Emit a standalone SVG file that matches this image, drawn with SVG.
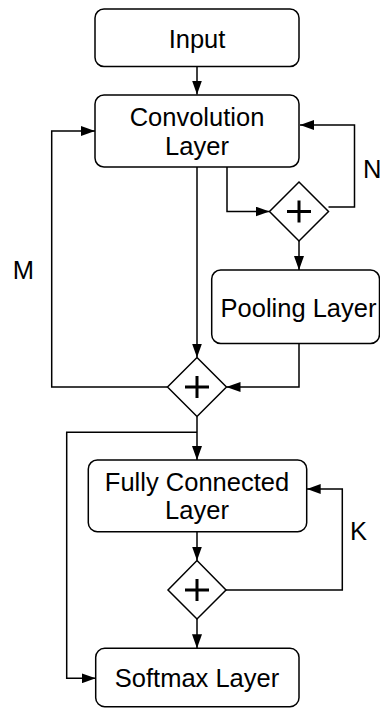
<svg xmlns="http://www.w3.org/2000/svg" width="380" height="708" viewBox="0 0 380 708">
<style>
.box{fill:#fff;stroke:#000;stroke-width:1.5}
.dia{fill:#fff;stroke:#000;stroke-width:1.5}
.plus{stroke:#000;stroke-width:3;fill:none}
.edge{fill:none;stroke:#000;stroke-width:1.5;marker-end:url(#arr)}
.plain{fill:none;stroke:#000;stroke-width:1.5}
text{font-family:"Liberation Sans",Arial,Helvetica,sans-serif;font-size:25.5px;fill:#000}
.c{text-anchor:middle}
</style>
<defs>
<marker id="arr" viewBox="0 0 14 10" refX="14" refY="5" markerWidth="14" markerHeight="10" markerUnits="userSpaceOnUse" orient="auto">
<path d="M0,0 L14,5 L0,10 z" fill="#000"/>
</marker>
</defs>
<g id="connectors">
<path class="edge" d="M197,67 L197,94.5"/>
<path class="edge" d="M197,167 L197,357.5"/>
<path class="edge" d="M227,167 L227,211.5 L269.5,211.5"/>
<path class="edge" d="M328.5,207 L354.5,207 L354.5,125 L300,125"/>
<path class="edge" d="M299,241 L299,270"/>
<path class="edge" d="M299,343.5 L299,387 L226.5,387"/>
<path class="edge" d="M167.5,387 L51.7,387 L51.7,131 L95,131"/>
<path class="edge" d="M197,416.5 L197,460"/>
<path class="edge" d="M197,432.3 L66.7,432.3 L66.7,678.3 L95.7,678.3"/>
<path class="edge" d="M197,531.7 L197,560.5"/>
<path class="edge" d="M197,619 L197,648.3"/>
<path class="edge" d="M226,590 L342.3,590 L342.3,489 L306.7,489"/>
</g>
<g id="input">
<rect class="box" x="95" y="9" width="204" height="57.5" rx="9"/>
<text class="c" x="197" y="47.7">Input</text>
</g>
<g id="conv">
<rect class="box" x="95" y="95" width="204" height="72" rx="9"/>
<text class="c" x="197" y="126">Convolution</text>
<text class="c" x="197" y="155">Layer</text>
</g>
<g id="add1">
<path class="dia" d="M299,182 L328.5,211.5 L299,241 L269.5,211.5 z"/>
<path class="plus" d="M287,211.5 H311 M299,200.5 V222.5"/>
</g>
<g id="pool">
<rect class="box" x="211.7" y="270" width="167.8" height="73.5" rx="9"/>
<text class="c" x="298.5" y="317.3">Pooling Layer</text>
</g>
<g id="add2">
<path class="dia" d="M197,357.5 L226.5,387 L197,416.5 L167.5,387 z"/>
<path class="plus" d="M185,387 H209 M197,376 V398"/>
</g>
<g id="fc">
<rect class="box" x="88.3" y="460" width="218.4" height="71.7" rx="9"/>
<text class="c" x="197" y="490.7">Fully Connected</text>
<text class="c" x="197" y="519.3">Layer</text>
</g>
<g id="add3">
<path class="dia" d="M197,560.5 L226,590 L197,619 L168,590 z"/>
<path class="plus" d="M185,590 H209 M197,579 V601"/>
</g>
<g id="softmax">
<rect class="box" x="95.7" y="648.3" width="203.3" height="58.4" rx="9"/>
<text class="c" x="197" y="686.7">Softmax Layer</text>
</g>
<g id="labels">
<text x="12.7" y="279">M</text>
<text x="363" y="178.3">N</text>
<text x="350" y="540">K</text>
</g>
</svg>
